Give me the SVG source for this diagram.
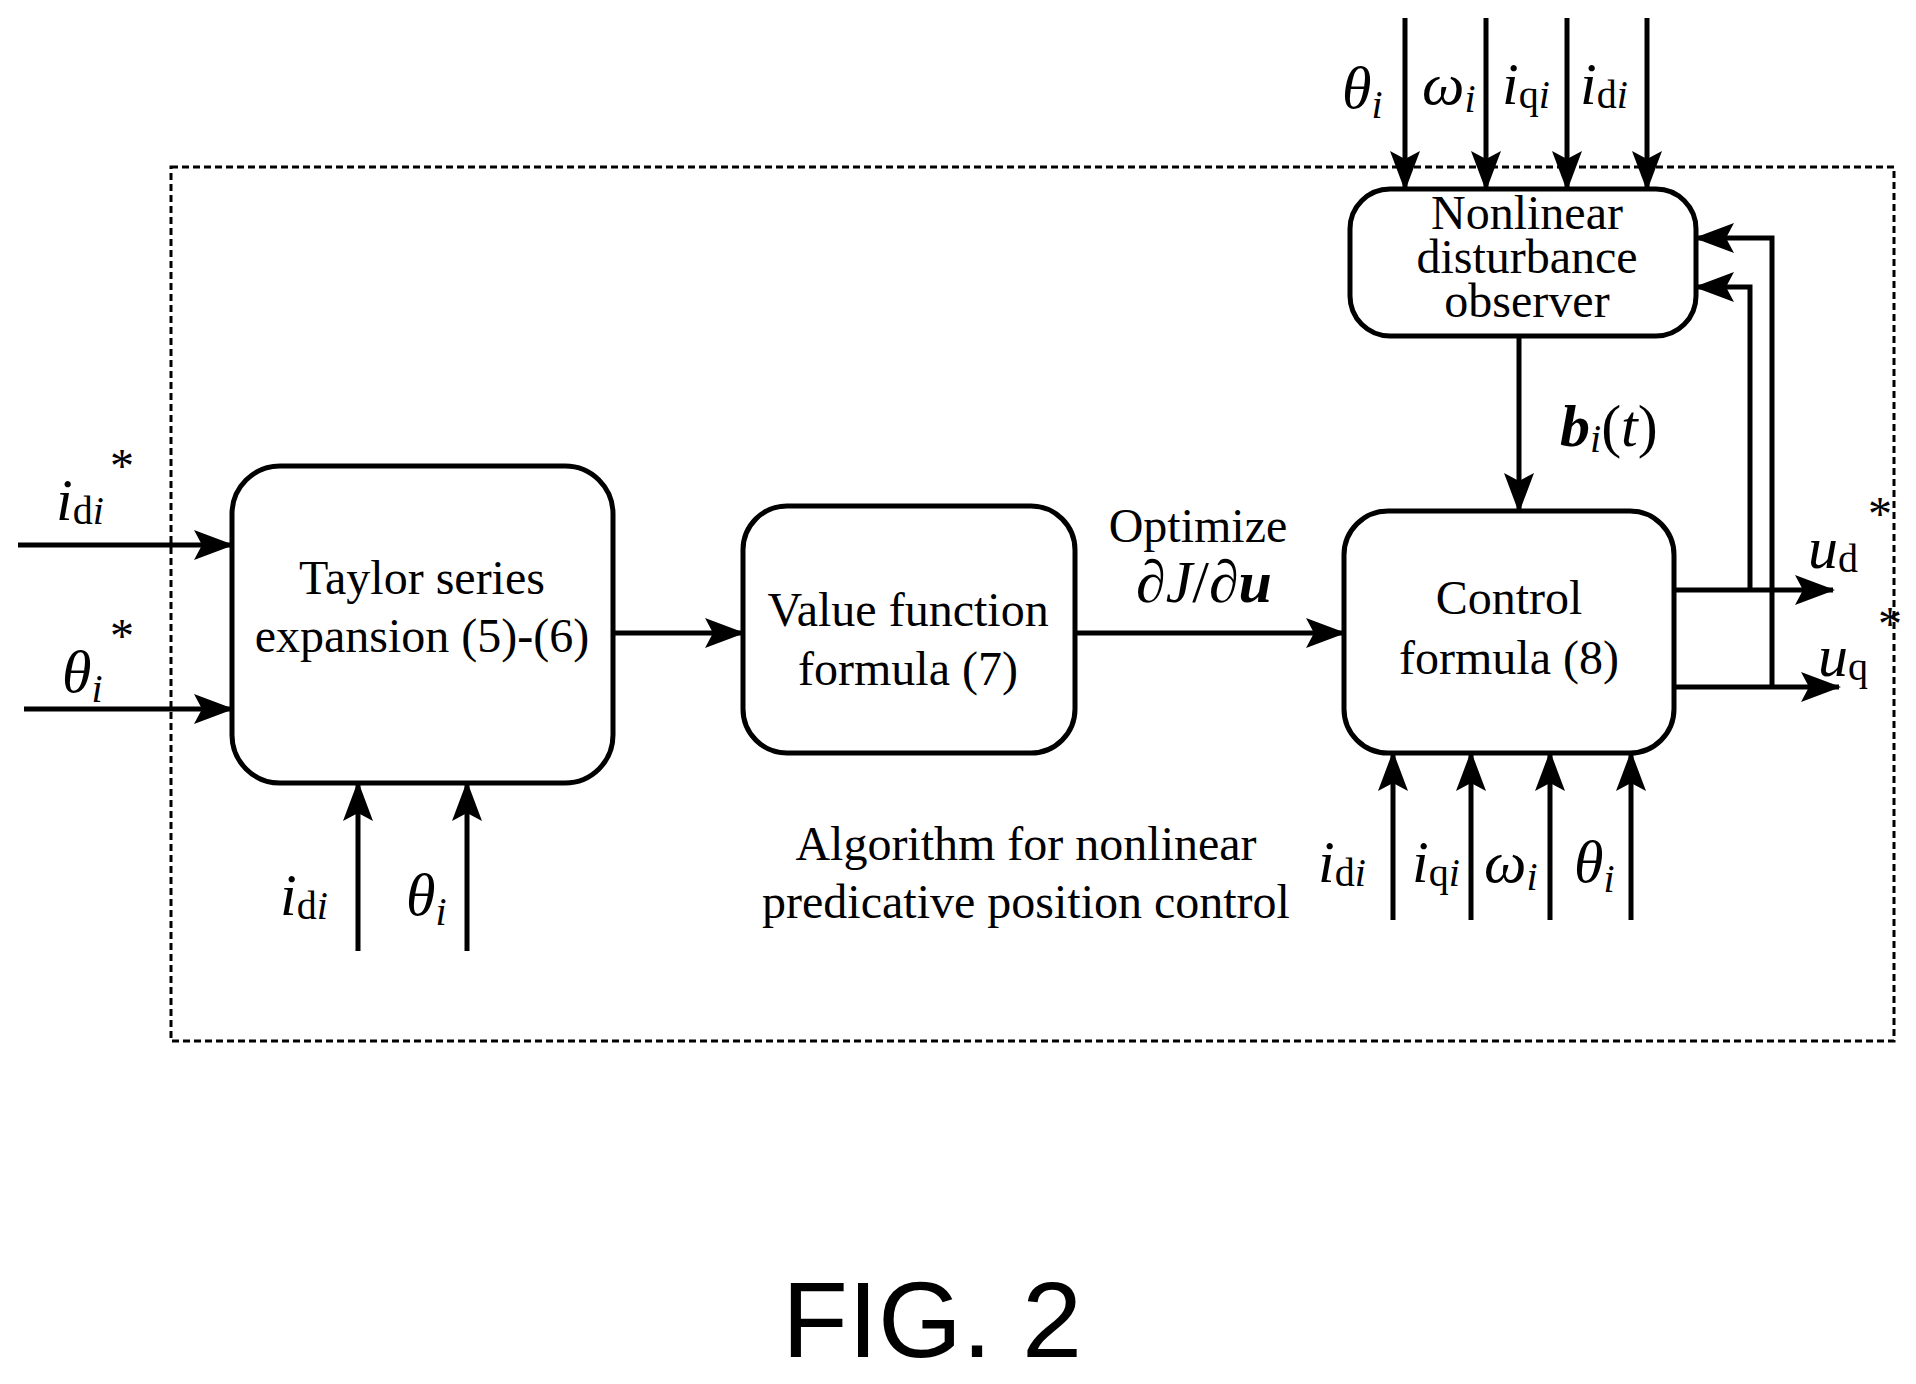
<svg xmlns="http://www.w3.org/2000/svg" width="1916" height="1384" viewBox="0 0 1916 1384">
<style>
.b{fill:#fff;stroke:#000;stroke-width:5}
.l{fill:none;stroke:#000;stroke-width:5}
.t{font-family:"Liberation Serif","Times New Roman",serif;font-size:48px;text-anchor:middle}
.m{font-family:"Liberation Serif","Times New Roman",serif;font-size:60px;font-style:italic}
.s{font-style:normal;font-size:40px}
.si{font-size:40px}
</style>
<defs>
<marker id="a" markerUnits="userSpaceOnUse" markerWidth="40" markerHeight="30" viewBox="0 0 40 30" refX="38" refY="15" orient="auto">
<path d="M0,0 L40,15 L0,30 L8,15 Z" fill="#000"/>
</marker>
</defs>
<rect width="1916" height="1384" fill="#fff"/>
<rect x="171" y="167" width="1723" height="874" fill="none" stroke="#000" stroke-width="3" stroke-dasharray="7,4"/>
<g id="taylor"><rect class="b" x="232" y="466" width="381" height="317" rx="48"/>
<text class="t" x="422" y="594">Taylor series</text><text class="t" x="422" y="652">expansion (5)-(6)</text></g>
<g id="value"><rect class="b" x="743" y="506" width="332" height="247" rx="44"/>
<text class="t" x="908" y="626">Value function</text><text class="t" x="908" y="685">formula (7)</text></g>
<g id="control"><rect class="b" x="1344" y="511" width="330" height="242" rx="44"/>
<text class="t" x="1509" y="614">Control</text><text class="t" x="1509" y="674">formula (8)</text></g>
<g id="ndo"><rect class="b" x="1350" y="189" width="346" height="147" rx="40"/>
<text class="t" x="1527" y="229" font-size="40">Nonlinear</text><text class="t" x="1527" y="273" font-size="40">disturbance</text><text class="t" x="1527" y="317" font-size="40">observer</text></g>
<g id="connectors">
<line class="l" x1="18" y1="545" x2="232" y2="545" marker-end="url(#a)"/>
<line class="l" x1="24" y1="709" x2="232" y2="709" marker-end="url(#a)"/>
<line class="l" x1="613" y1="633" x2="743" y2="633" marker-end="url(#a)"/>
<line class="l" x1="1075" y1="633" x2="1344" y2="633" marker-end="url(#a)"/>
<line class="l" x1="358" y1="951" x2="358" y2="783" marker-end="url(#a)"/>
<line class="l" x1="467" y1="951" x2="467" y2="783" marker-end="url(#a)"/>
<line class="l" x1="1393" y1="920" x2="1393" y2="753" marker-end="url(#a)"/>
<line class="l" x1="1471" y1="920" x2="1471" y2="753" marker-end="url(#a)"/>
<line class="l" x1="1550" y1="920" x2="1550" y2="753" marker-end="url(#a)"/>
<line class="l" x1="1631" y1="920" x2="1631" y2="753" marker-end="url(#a)"/>
<line class="l" x1="1405" y1="18" x2="1405" y2="189" marker-end="url(#a)"/>
<line class="l" x1="1486" y1="18" x2="1486" y2="189" marker-end="url(#a)"/>
<line class="l" x1="1567" y1="18" x2="1567" y2="189" marker-end="url(#a)"/>
<line class="l" x1="1647" y1="18" x2="1647" y2="189" marker-end="url(#a)"/>
<line class="l" x1="1519" y1="336" x2="1519" y2="511" marker-end="url(#a)"/>
<line class="l" x1="1674" y1="590" x2="1833" y2="590" marker-end="url(#a)"/>
<line class="l" x1="1674" y1="687" x2="1839" y2="687" marker-end="url(#a)"/>
<polyline class="l" points="1750,590 1750,287 1696,287" marker-end="url(#a)"/>
<polyline class="l" points="1772,687 1772,238 1696,238" marker-end="url(#a)"/>
</g>
<g id="labels">
<text class="m" x="56" y="520">i<tspan class="s" dy="4">d</tspan><tspan class="si">i</tspan></text><text class="t" x="122" y="482" font-size="36">*</text>
<text class="m" x="62" y="692">θ<tspan class="si" dy="10">i</tspan></text><text class="t" x="122" y="652" font-size="36">*</text>
<text class="m" x="280" y="915">i<tspan class="s" dy="4">d</tspan><tspan class="si">i</tspan></text>
<text class="m" x="406" y="915">θ<tspan class="si" dy="10">i</tspan></text>
<text class="t" x="1198" y="542">Optimize</text>
<text class="m" x="1136" y="602" font-size="50">∂J<tspan font-style="normal">/</tspan>∂<tspan font-weight="bold">u</tspan></text>
<text class="t" x="1026" y="860">Algorithm for nonlinear</text>
<text class="t" x="1026" y="918">predicative position control</text>
<text class="m" x="1318" y="882">i<tspan class="s" dy="4">d</tspan><tspan class="si">i</tspan></text>
<text class="m" x="1412" y="882">i<tspan class="s" dy="4">q</tspan><tspan class="si">i</tspan></text>
<text class="m" x="1484" y="882">ω<tspan class="si" dy="8">i</tspan></text>
<text class="m" x="1574" y="882">θ<tspan class="si" dy="10">i</tspan></text>
<text class="m" x="1342" y="108">θ<tspan class="si" dy="10">i</tspan></text>
<text class="m" x="1422" y="104">ω<tspan class="si" dy="8">i</tspan></text>
<text class="m" x="1502" y="104">i<tspan class="s" dy="4">q</tspan><tspan class="si">i</tspan></text>
<text class="m" x="1580" y="104">i<tspan class="s" dy="4">d</tspan><tspan class="si">i</tspan></text>
<text class="m" x="1560" y="446" font-weight="bold">b<tspan class="si" font-weight="normal" dy="6">i</tspan><tspan font-style="normal" font-weight="normal" dy="-6">(</tspan><tspan font-weight="normal">t</tspan><tspan font-style="normal" font-weight="normal">)</tspan></text>
<text class="m" x="1808" y="568">u<tspan class="s" dy="4">d</tspan></text><text class="t" x="1880" y="530" font-size="36">*</text>
<text class="m" x="1818" y="676">u<tspan class="s" dy="4">q</tspan></text><text class="t" x="1890" y="640" font-size="36">*</text>
</g>
<text x="932" y="1357" font-family="Liberation Sans,Arial,sans-serif" font-size="108" text-anchor="middle">FIG. 2</text>
</svg>
